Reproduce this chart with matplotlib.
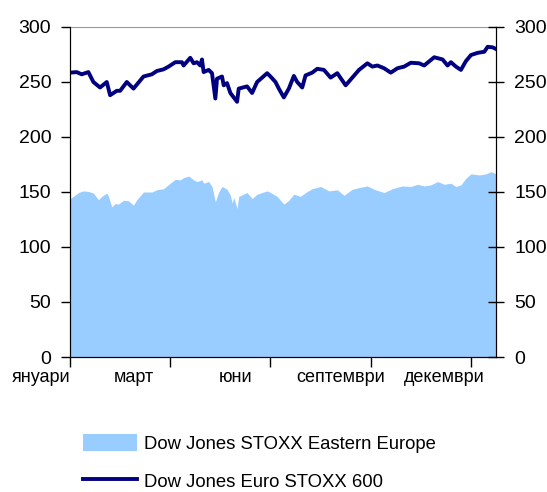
import numpy as np
import matplotlib; matplotlib.use('Agg')
import matplotlib.pyplot as plt
import matplotlib.transforms as mtransforms

plt.rcParams['font.family'] = ['Liberation Sans', 'DejaVu Sans']

# ---- data (trading-day index, index level) ----
stoxx600_days = [0, 4, 7, 11, 14, 18, 22, 24, 28, 30, 34, 38, 44, 49, 52, 56, 59, 63, 67, 68,
                 72, 74, 76, 78, 79, 80, 83, 85, 87, 88, 91, 92, 94, 96, 100, 101, 106, 109, 112,
                 118, 120, 123, 125, 128, 131, 134, 136, 139, 141, 145, 148, 152, 156, 160, 165,
                 169, 173, 178, 181, 184, 188, 192, 196, 200, 204, 209, 212, 218, 223, 226, 228,
                 231, 234, 237, 240, 244, 248, 250, 253, 255]
stoxx600 = [258.5, 259, 257, 259, 250, 245, 250, 238, 242, 242, 250, 244, 255, 257, 260, 261.5,
            264, 268, 268, 265, 272, 267, 268, 265, 270.5, 259, 261, 258, 235, 253, 255, 247,
            249, 240, 232, 244, 246, 240, 250, 258, 255, 250, 244, 236, 244, 255.5, 250, 245,
            256, 258.5, 262, 261, 254, 258, 247, 254, 261, 267, 264, 265, 262.5, 258.5, 262.5,
            264, 267.5, 267, 265, 272.5, 270.5, 265, 268, 264, 261, 269, 274.5, 276.5, 277.5,
            282, 281.5, 280]

east_days = [0, 2, 5, 8, 11, 14, 17, 19, 22, 23, 25, 27, 29, 32, 35, 38, 40, 44, 49, 52, 56,
             60, 63, 66, 68, 71, 74, 76, 79, 80, 83, 85, 87, 89, 91, 94, 96, 97, 98, 100, 101,
             106, 109, 112, 118, 120, 124, 128, 131, 134, 138, 141, 145, 150, 155, 160, 164,
             169, 173, 178, 182, 188, 193, 199, 204, 208, 212, 216, 220, 224, 228, 231, 234,
             237, 240, 245, 249, 252, 255]
east = [144, 146, 149.5, 151, 150.5, 149, 143, 146, 149, 146, 136.5, 139.5, 139, 142.5, 142,
        138, 143, 150, 150, 152, 153, 158, 161.5, 161, 163, 164.5, 161, 159.5, 161, 158, 159.5,
        155, 141, 150, 155, 152.5, 147, 140, 145, 135, 146, 149.5, 144, 148, 151, 149.5, 146,
        139, 142.5, 148, 146, 149.5, 153, 155, 151, 152, 147, 152.5, 154, 155.5, 152.5, 149.5,
        153, 155.5, 155, 157, 155.5, 156.5, 159.5, 157, 158, 155, 156.5, 162.5, 166.5, 165.5,
        166.5, 168.5, 166.5]

tick_days = [0, 60, 120, 180, 240]
month_labels = ['януари', 'март', 'юни', 'септември', 'декември']
month_label_days = [-17, 38, 99, 162, 224]
y_ticks = [0, 50, 100, 150, 200, 250, 300]

label_east = 'Dow Jones STOXX Eastern Europe'
label_600 = 'Dow Jones Euro STOXX 600'

fig = plt.figure(figsize=(5.47, 4.92), dpi=100)
ax = fig.add_axes([70/547, 1 - 357/492, 426/547, 330/492])

ax.fill_between(east_days, east, 0, color='#99CCFF', lw=0, label=label_east)
ax.plot(stoxx600_days, stoxx600, color='#000080', lw=2.8, label=label_600)

ax.set_xlim(0, 255)
ax.set_ylim(0, 300)
ax.set_yticks(y_ticks)
ax.tick_params(axis='y', direction='out', length=6.5, width=1, labelsize=14, pad=7)
ax.set_xticks(tick_days)
ax.set_xticklabels([])
ax.tick_params(axis='x', direction='out', length=7, width=1)

trans = mtransforms.blended_transform_factory(ax.transData, ax.transAxes)
for d, lab in zip(month_label_days, month_labels):
    ax.text(d, -0.037, lab, transform=trans, ha='center', va='top', fontsize=13)

ax.spines['top'].set_color('#999999')
for s in ['left', 'right', 'bottom']:
    ax.spines[s].set_color('black')

ax2 = ax.twinx()
ax2.set_ylim(0, 300)
ax2.set_yticks(y_ticks)
ax2.tick_params(axis='y', direction='inout', length=12, width=1, labelsize=14, pad=7)
ax2.spines['top'].set_visible(False)

ax.legend(loc='upper left', bbox_to_anchor=(83/547, 1 - 434/492), bbox_transform=fig.transFigure,
          frameon=False, fontsize=13.3, handlelength=2.9, handleheight=1.0,
          labelspacing=1.05, handletextpad=0.4, borderaxespad=0, borderpad=0)

fig.savefig('out.png', dpi=100)
